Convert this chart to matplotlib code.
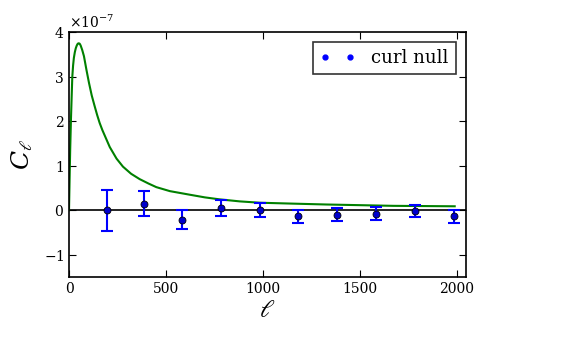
import matplotlib
matplotlib.use("Agg")
import matplotlib.pyplot as plt
from matplotlib.lines import Line2D
import numpy as np

plt.rcParams['font.family'] = 'DejaVu Serif'
plt.rcParams['mathtext.fontset'] = 'dejavuserif'

# Theory curve (green), values in units of 1e-7
ell_curve = [0, 3, 6, 10, 14, 17, 21, 25, 30, 35, 40, 45, 50, 55, 60, 68, 77, 90,
             103, 117, 132, 145, 158, 172, 186, 210, 245, 278, 320, 364, 410, 450,
             520, 622, 700, 777, 880, 983, 1150, 1327, 1500, 1670, 1830, 1988]
cl_curve = [0.0, 0.7, 1.35, 2.04, 2.6, 3.0, 3.25, 3.42, 3.55, 3.64, 3.70, 3.74,
            3.75, 3.74, 3.70, 3.60, 3.46, 3.15, 2.86, 2.58, 2.34, 2.14, 1.96,
            1.80, 1.66, 1.42, 1.16, 0.98, 0.82, 0.70, 0.60, 0.52, 0.43, 0.35,
            0.29, 0.245, 0.20, 0.17, 0.15, 0.13, 0.115, 0.10, 0.095, 0.09]

# Curl null data points
ell_pts = [195, 387, 583, 783, 983, 1182, 1382, 1582, 1782, 1982]
cl_pts = [0.0, 0.15, -0.21, 0.045, 0.015, -0.135, -0.1, -0.075, -0.02, -0.135]
cl_err = [0.457, 0.285, 0.21, 0.18, 0.157, 0.14, 0.15, 0.15, 0.14, 0.14]

scale = 1e-7

fig = plt.figure(figsize=(5.68, 3.53), dpi=100)
ax = fig.add_axes([0.1215, 0.215, 0.6985, 0.694])

ax.axhline(0, color='k', lw=1.2, zorder=1)
ax.plot(ell_curve, np.array(cl_curve) * scale, color='green', lw=1.5, zorder=2)
ax.errorbar(ell_pts, np.array(cl_pts) * scale, yerr=np.array(cl_err) * scale,
            fmt='none', ecolor='blue', elinewidth=1.5, capsize=4, capthick=1.5, zorder=3)
ax.plot(ell_pts, np.array(cl_pts) * scale, 'o', color='#0000cc', mec='k', mew=0.6,
        ms=5, zorder=4)

ax.set_xlim(0, 2045)
ax.set_ylim(-1.5e-7, 4e-7)
ax.set_xticks([0, 500, 1000, 1500, 2000])
ax.set_yticks(np.array([-1, 0, 1, 2, 3, 4]) * scale)
ax.ticklabel_format(axis='y', style='sci', scilimits=(0, 0), useMathText=True)
ax.tick_params(direction='in', top=True, right=True, labelsize=10, length=5)
for s in ax.spines.values():
    s.set_linewidth(1.2)

ax.set_xlabel(r'$\ell$', fontsize=18, labelpad=2)
ax.set_ylabel(r'$C_\ell$', fontsize=18, labelpad=6)
ax.yaxis.get_offset_text().set_fontsize(10)

handle = Line2D([], [], ls='none', marker='o', color='blue', mec='blue', ms=3.5)
leg = ax.legend([handle], ['curl null'], loc='upper right', numpoints=2,
                fancybox=False, fontsize=13, handlelength=2.0, handletextpad=0.85,
                borderaxespad=0.55, borderpad=0.4)
leg.get_frame().set_edgecolor('k')
leg.get_frame().set_linewidth(1.2)

fig.savefig('out.png', dpi=100)
